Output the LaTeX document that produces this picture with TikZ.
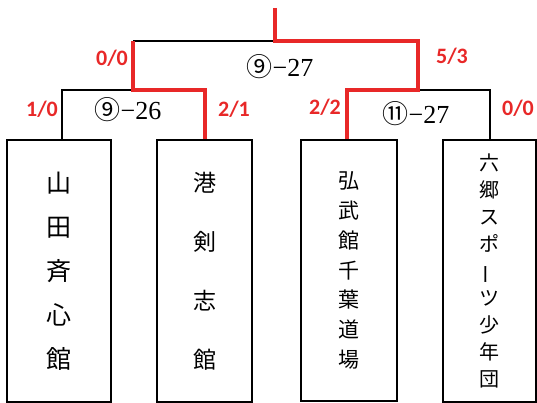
\documentclass[tikz,border=0pt]{standalone}
\usepackage{fontspec}
\usepackage{graphicx}
\newfontfamily\jpfont{Noto Sans CJK JP}
\newfontfamily\scorefont{Carlito}
\newfontfamily\matchfont{Liberation Serif}
\definecolor{winred}{RGB}{232,40,40}
\begin{document}
\begin{tikzpicture}[x=1pt,y=-1pt,
  team/.style={draw,line width=1.5pt,inner sep=0pt,align=center,font=\jpfont},
  blk/.style={line width=1.5pt,black},
  win/.style={line width=4pt,winred,line join=miter},
  score/.style={text=winred,font=\scorefont\bfseries\fontsize{22}{22}\selectfont},
  match/.style={font=\fontsize{26}{26}\selectfont,inner sep=0pt}]
\useasboundingbox (0,0) rectangle (537,403);
\node[team,minimum width=104pt,minimum height=262pt,font=\jpfont\fontsize{25}{44}\selectfont] (b1) at (59,271) {山\\田\\斉\\心\\館};
\node[team,minimum width=95pt,minimum height=262pt,font=\jpfont\fontsize{23}{59}\selectfont] (b2) at (204.5,271) {港\\剣\\志\\館};
\node[team,minimum width=96pt,minimum height=261pt,font=\jpfont\fontsize{21}{29.7}\selectfont] (b3) at (349,270.5) {弘\\武\\館\\千\\葉\\道\\場};
\node[team,minimum width=93pt,minimum height=262pt,font=\jpfont\fontsize{20}{27}\selectfont,text width=93pt] (b4) at (489.5,271) {六\\郷\\ス\\ポ\\\rotatebox[origin=c]{90}{ー}\\ツ\\少\\年\\団};
\coordinate (m1L) at (62,90);
\coordinate (m1R) at (205,90);
\coordinate (m2L) at (347,90);
\coordinate (m2R) at (490,90);
\coordinate (fL) at (133,41);
\coordinate (fR) at (418,41);
\coordinate (top) at (275,8);
\coordinate (topj) at (275,41);
\draw[blk] (b1.north -| m1L) -- (m1L) -- (fL |- m1L);
\draw[blk] (fL) -- (topj);
\draw[blk] (fR |- m2R) -- (m2R) -- (b4.north -| m2R);
\draw[win] (b2.north -| m1R) -- (m1R) -- (fL |- m1R) -- (fL);
\draw[win] (top) -- (topj) -- (fR) -- (fR |- m2L) -- (m2L) -- (b3.north -| m2L);
\node[score] (s1) at (112,58) {0/0};
\node[score] (s2) at (42,109) {1/0};
\node[score] (s3) at (234,109) {2/1};
\node[score] (s4) at (452,56) {5/3};
\node[score] (s5) at (325,107) {2/2};
\node[score] (s6) at (518,108) {0/0};
\node[match] (t1) at (280,67) {{\jpfont ⑨}{\matchfont −27}};
\node[match] (t2) at (128,110) {{\jpfont ⑨}{\matchfont −26}};
\node[match] (t3) at (416,114) {{\jpfont ⑪}{\matchfont −27}};
\end{tikzpicture}
\end{document}
